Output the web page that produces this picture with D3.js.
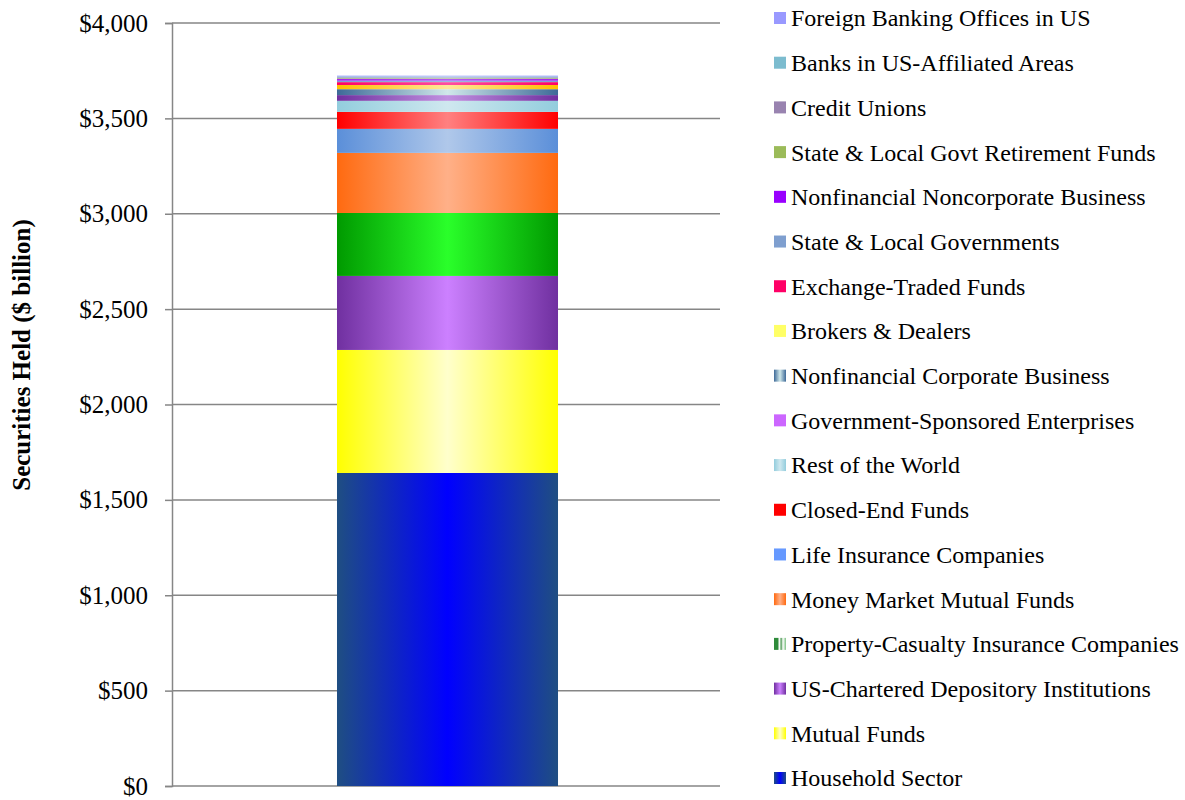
<!DOCTYPE html>
<html>
<head>
<meta charset="utf-8">
<script src="https://cdn.jsdelivr.net/npm/d3@7"></script>
<style>
  html, body { margin: 0; padding: 0; background: #fff; }
  svg { display: block; font-family: "Liberation Serif", "Times New Roman", serif; }
</style>
</head>
<body>
<svg id="chart" width="1185" height="800"></svg>
<script>
// ---- Data (bottom of stack first) ----
const categories = [""];
const seriesNames = [
  "Household Sector",
  "Mutual Funds",
  "US-Chartered Depository Institutions",
  "Property-Casualty Insurance Companies",
  "Money Market Mutual Funds",
  "Life Insurance Companies",
  "Closed-End Funds",
  "Rest of the World",
  "Government-Sponsored Enterprises",
  "Nonfinancial Corporate Business",
  "Brokers & Dealers",
  "Exchange-Traded Funds",
  "State & Local Governments",
  "Nonfinancial Noncorporate Business",
  "State & Local Govt Retirement Funds",
  "Credit Unions",
  "Banks in US-Affiliated Areas",
  "Foreign Banking Offices in US"
];
const seriesValues = [1641, 645, 388, 330, 315, 126, 89, 58, 30, 31, 22, 15, 8, 8, 4, 5, 5, 4];
// bar gradient edge / centre colours, legend marker colours
const edgeColors = ["#1f4e82", "#ffff00", "#7030a0", "#009a00", "#ff6a10", "#5b8fd9", "#ff0000", "#93cddd", "#7030a0", "#3e6a98", "#ffc000", "#ff0066", "#7f9fcf", "#9900ff", "#9bbb59", "#9983b0", "#7cbccf", "#9999ff"];
const centerColors = ["#0000ff", "#ffffcc", "#cc80ff", "#2aff2a", "#ffb088", "#b0c8ea", "#ff8080", "#cfe8ef", "#c090e0", "#d0e8ea", "#ffe79a", "#ff4da0", "#9fb8dd", "#b040ff", "#b8d088", "#b0a0c8", "#a0d0e0", "#b0b0ff"];
const legendColors = ["#0a1fd0", "#ffff33", "#8010ff", "#3a9a3a", "#ff7a30", "#6699ff", "#ff0000", "#a8d8e8", "#cc66ff", "#4a72a0", "#ffff66", "#ff0066", "#7f9fcf", "#9900ff", "#9bbb59", "#9983b0", "#7cbccf", "#9999ff"];
const legendGradient = [true, true, true, false, true, false, false, true, false, true, false, false, false, false, false, false, false, false];
const yTicks = [0, 500, 1000, 1500, 2000, 2500, 3000, 3500, 4000];

// ---- Layout ----
const svg = d3.select("#chart");
const plot = { left: 172, right: 720, top: 23, bottom: 786 };

const x = d3.scaleBand().domain(categories).range([plot.left, plot.right])
  .paddingInner(0.4252).paddingOuter(0.4252).align(0.5046);
const y = d3.scaleLinear().domain([0, 4000]).range([plot.bottom, plot.top]);

// gradients
const defs = svg.append("defs");
seriesNames.forEach((name, i) => {
  const g = defs.append("linearGradient").attr("id", "grad" + i)
    .attr("x1", "0").attr("x2", "1").attr("y1", "0").attr("y2", "0");
  g.append("stop").attr("offset", "0%").attr("stop-color", edgeColors[i]);
  g.append("stop").attr("offset", "50%").attr("stop-color", centerColors[i]);
  g.append("stop").attr("offset", "100%").attr("stop-color", edgeColors[i]);
});
// striped green legend marker for Property-Casualty
const pc = defs.append("linearGradient").attr("id", "pcStripe")
  .attr("x1", "0").attr("x2", "1").attr("y1", "0").attr("y2", "0");
[["0%", "#2e8b3a"], ["30%", "#2e8b3a"], ["45%", "#ffffff"], ["60%", "#5aa060"], ["75%", "#ffffff"], ["100%", "#7abf80"]]
  .forEach(s => pc.append("stop").attr("offset", s[0]).attr("stop-color", s[1]));

// gridlines
svg.append("g").selectAll("line").data(yTicks).join("line")
  .attr("x1", plot.left).attr("x2", plot.right)
  .attr("y1", d => y(d)).attr("y2", d => y(d))
  .attr("stroke", "#868686").attr("stroke-width", 1.5);

// y axis
const yAxis = d3.axisLeft(y).tickValues(yTicks).tickSize(7).tickPadding(17)
  .tickFormat(d => "$" + d3.format(",")(d));
const ya = svg.append("g").attr("transform", `translate(${plot.left},0)`).call(yAxis);
ya.select(".domain").attr("stroke", "#868686").attr("stroke-width", 1.5);
ya.selectAll(".tick line").attr("stroke", "#868686").attr("stroke-width", 1.5);
ya.selectAll(".tick text").attr("font-family", "Liberation Serif, serif").attr("font-size", 25).attr("fill", "#000");

// stacked bar
const row = {};
seriesNames.forEach((n, i) => row[n] = seriesValues[i]);
const stack = d3.stack().keys(seriesNames)([Object.assign({ cat: categories[0] }, row)]);
svg.append("g").selectAll("rect").data(stack).join("rect")
  .attr("x", x(categories[0]))
  .attr("width", x.bandwidth())
  .attr("y", d => y(d[0][1]))
  .attr("height", d => y(d[0][0]) - y(d[0][1]))
  .attr("fill", (d, i) => `url(#grad${i})`);

// y axis title
svg.append("text")
  .attr("transform", "translate(30,355) rotate(-90)")
  .attr("text-anchor", "middle")
  .attr("font-size", 25).attr("font-weight", "bold")
  .text("Securities Held ($ billion)");

// legend (top = last series)
const legendOrder = d3.range(seriesNames.length).reverse();
const ly = d3.scalePoint().domain(legendOrder).range([18, 778]);
const lg = svg.append("g").selectAll("g").data(legendOrder).join("g")
  .attr("transform", d => `translate(774,${ly(d)})`);
lg.append("rect").attr("x", 0).attr("y", -6).attr("width", 12).attr("height", 12)
  .attr("fill", d => d === 3 ? "url(#pcStripe)" : (legendGradient[d] ? `url(#grad${d})` : legendColors[d]));
lg.append("text").attr("x", 17).attr("y", 0).attr("dy", "0.35em")
  .attr("font-size", 24).attr("fill", "#000")
  .text(d => seriesNames[d]);
</script>
</body>
</html>
